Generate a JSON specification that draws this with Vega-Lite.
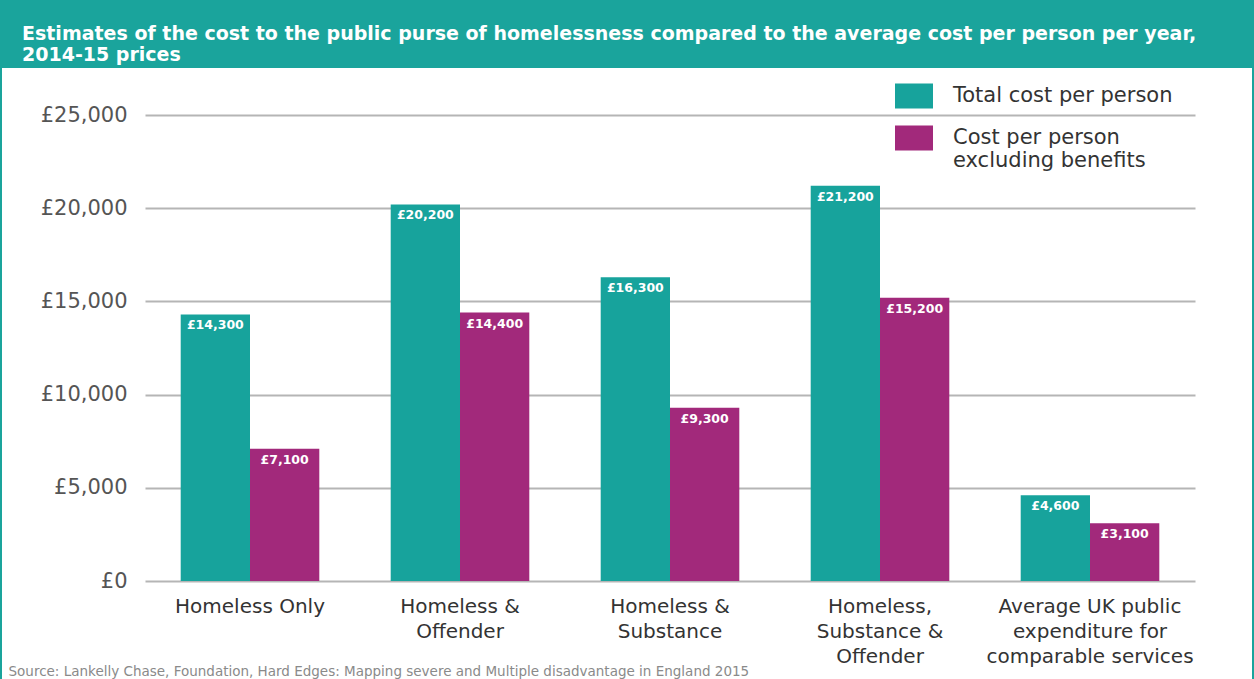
{
  "$schema": "https://vega.github.io/schema/vega-lite/v6.json",
  "width": 1250,
  "height": 611,
  "autosize": {"type": "none"},
  "padding": {"left": 2, "top": 68, "right": 2, "bottom": 0},
  "background": "#1aa49c",
  "title": {
    "text": ["Estimates of the cost to the public purse of homelessness compared to the average cost per person per year,", "2014-15 prices"],
    "anchor": "start",
    "frame": "group",
    "dx": 20,
    "offset": -16,
    "color": "white",
    "font": "DejaVu Sans",
    "fontSize": 19,
    "fontWeight": "bold",
    "lineHeight": 21,
    "baseline": "bottom"
  },
  "config": {
    "view": {"fill": "white", "stroke": null},
    "locale": {
      "number": {"decimal": ".", "thousands": ",", "grouping": [3], "currency": ["£", ""]}
    }
  },
  "data": {
    "values": [
      {"group": "Homeless Only", "series": "Total cost per person", "cost": 14300},
      {"group": "Homeless Only", "series": "Cost per person excluding benefits", "cost": 7100},
      {"group": "Homeless & Offender", "series": "Total cost per person", "cost": 20200},
      {"group": "Homeless & Offender", "series": "Cost per person excluding benefits", "cost": 14400},
      {"group": "Homeless & Substance", "series": "Total cost per person", "cost": 16300},
      {"group": "Homeless & Substance", "series": "Cost per person excluding benefits", "cost": 9300},
      {"group": "Homeless, Substance & Offender", "series": "Total cost per person", "cost": 21200},
      {"group": "Homeless, Substance & Offender", "series": "Cost per person excluding benefits", "cost": 15200},
      {"group": "Average UK public expenditure for comparable services", "series": "Total cost per person", "cost": 4600},
      {"group": "Average UK public expenditure for comparable services", "series": "Cost per person excluding benefits", "cost": 3100}
    ]
  },
  "encoding": {
    "x": {
      "field": "group",
      "type": "nominal",
      "sort": null,
      "scale": {"range": [143, 1193], "paddingInner": 0.34, "paddingOuter": 0.17},
      "axis": {
        "title": "Source: Lankelly Chase, Foundation, Hard Edges: Mapping severe and Multiple disadvantage in England 2015",
        "orient": "bottom",
        "offset": -98,
        "labelAngle": 0,
        "ticks": false,
        "domain": false,
        "grid": false,
        "labelPadding": 15,
        "labelBaseline": "top",
        "labelLineHeight": 25,
        "labelFont": "DejaVu Sans",
        "labelFontSize": 20,
        "labelColor": "#333333",
        "labelLimit": 0,
        "labelOverlap": false,
        "labelExpr": "datum.label == 'Homeless & Offender' ? ['Homeless &', 'Offender'] : datum.label == 'Homeless & Substance' ? ['Homeless &', 'Substance'] : datum.label == 'Homeless, Substance & Offender' ? ['Homeless,', 'Substance &', 'Offender'] : datum.label == 'Average UK public expenditure for comparable services' ? ['Average UK public', 'expenditure for', 'comparable services'] : datum.label",
        "titleX": 6,
        "titleY": 90,
        "titleAlign": "left",
        "titleBaseline": "middle",
        "titleFont": "DejaVu Sans",
        "titleFontSize": 13.5,
        "titleFontWeight": "normal",
        "titleColor": "#8a8a8a"
      }
    },
    "xOffset": {
      "field": "series",
      "type": "nominal",
      "sort": ["Total cost per person", "Cost per person excluding benefits"],
      "scale": {"paddingInner": 0, "paddingOuter": 0}
    },
    "y": {
      "field": "cost",
      "type": "quantitative",
      "scale": {"domain": [0, 25000], "range": [513, 47], "nice": false},
      "axis": {
        "title": null,
        "values": [0, 5000, 10000, 15000, 20000, 25000],
        "format": "$,.0f",
        "offset": -142,
        "labelPadding": 17,
        "ticks": false,
        "domain": false,
        "grid": true,
        "gridColor": "#b5b5b5",
        "gridWidth": 2,
        "labelFont": "DejaVu Sans",
        "labelFontSize": 21,
        "labelColor": "#555555"
      }
    }
  },
  "layer": [
    {
      "mark": {"type": "bar"},
      "encoding": {
        "color": {
          "field": "series",
          "type": "nominal",
          "sort": ["Total cost per person", "Cost per person excluding benefits"],
          "scale": {"range": ["#17a39c", "#a2297b"]},
          "legend": {
            "orient": "none",
            "legendX": 893,
            "legendY": 9,
            "title": null,
            "padding": 0,
            "symbolType": "M-1,-0.66H1V0.66H-1Z",
            "symbolSize": 1444,
            "symbolStrokeWidth": 0,
            "symbolOpacity": 1,
            "labelFont": "DejaVu Sans",
            "labelFontSize": 21,
            "labelColor": "#333333",
            "labelOffset": 20,
            "labelLimit": 0,
            "rowPadding": 10,
            "labelExpr": "datum.label == 'Cost per person excluding benefits' ? ['Cost per person', 'excluding benefits'] : datum.label"
          }
        }
      }
    },
    {
      "mark": {"type": "text", "color": "white", "font": "DejaVu Sans", "fontWeight": "bold", "fontSize": 12.5, "baseline": "middle", "dy": 11},
      "encoding": {
        "text": {"field": "cost", "type": "quantitative", "format": "$,.0f"}
      }
    }
  ]
}
